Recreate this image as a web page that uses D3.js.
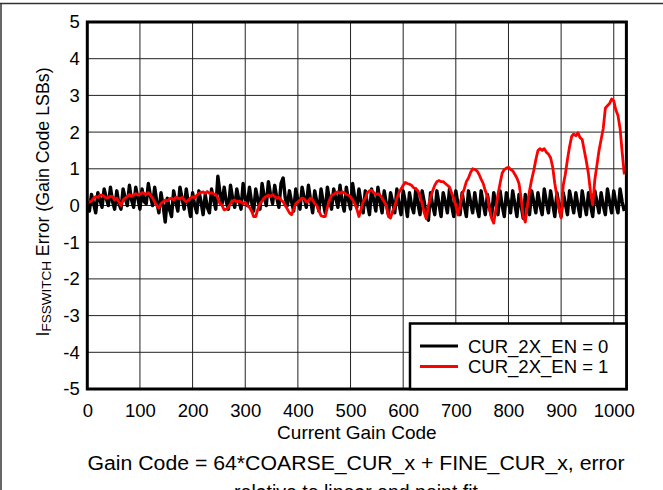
<!DOCTYPE html>
<html><head><meta charset="utf-8">
<script src="https://cdn.jsdelivr.net/npm/d3@7/dist/d3.min.js"></script>
<style>
body{margin:0;background:#fff}
svg{display:block}
text{font-family:"Liberation Sans",Arial,sans-serif;fill:#000}
</style>
</head><body>
<svg id="chart" width="663" height="490"></svg>
<script>
// ---- data ----
const codeStep = 4; // gain code spacing of the samples below (codes 0,4,...,1020)
const xTicks = [0,100,200,300,400,500,600,700,800,900,1000];
const yTicks = [-5,-4,-3,-2,-1,0,1,2,3,4,5];
const seriesNames = ["CUR_2X_EN = 0","CUR_2X_EN = 1"];
const seriesColors = ["#000000","#ff0000"];

const errCur2xEn0 = [
 0.1,-0.15,0.3,0.05,-0.2,0.35,0.15,-0.05,0.45,0.2,0.0,0.5,0.1,-0.1,0.4,0.05,
 -0.1,0.45,0.2,0.0,0.55,0.15,-0.05,0.5,0.2,-0.1,0.45,0.1,0.05,0.6,0.25,0.0,
 0.5,0.1,-0.2,0.35,0.0,-0.45,0.2,-0.1,-0.3,0.4,0.1,-0.15,0.5,0.2,-0.1,0.45,
 0.05,-0.3,0.35,0.0,-0.2,0.4,0.1,-0.25,0.3,-0.05,-0.2,0.45,0.15,-0.1,0.8,0.35,
 0.05,0.5,0.1,-0.1,0.55,0.2,-0.05,0.45,0.15,-0.1,0.6,0.2,0.0,0.5,0.1,-0.15,
 0.45,0.15,-0.1,0.6,0.25,0.0,0.65,0.3,0.05,0.55,0.2,-0.05,0.6,0.75,0.2,0.0,
 0.4,0.1,-0.15,0.45,0.15,-0.1,0.5,0.2,-0.05,0.55,0.15,-0.2,0.4,0.1,-0.15,0.45,
 0.1,-0.2,0.5,0.15,-0.1,0.45,0.2,-0.05,0.55,0.1,-0.15,0.5,0.15,-0.1,0.6,0.2,
 -0.05,0.45,0.1,-0.2,0.4,0.05,-0.25,0.45,0.15,-0.15,0.5,0.1,-0.2,0.4,0.05,-0.25,
 0.35,0.1,-0.2,0.45,0.05,-0.25,0.4,0.1,-0.3,0.35,0.0,-0.2,0.45,0.05,-0.25,0.4,
 0.1,-0.3,-0.4,0.35,0.0,-0.25,0.4,0.05,-0.3,0.35,0.1,-0.2,0.45,0.0,-0.3,0.4,
 0.05,-0.25,0.35,0.0,-0.3,0.4,0.1,-0.2,0.35,-0.05,-0.3,0.4,0.05,-0.25,0.3,-0.05,
 -0.3,0.35,0.05,-0.25,0.4,0.0,-0.3,0.35,0.1,-0.2,0.4,0.05,-0.3,0.3,0.0,-0.35,
 0.3,0.05,-0.25,0.4,0.1,-0.2,0.35,0.0,-0.25,0.45,0.1,-0.2,0.4,0.05,-0.3,0.35,
 0.0,-0.3,0.35,0.05,-0.25,0.4,0.1,-0.2,0.35,0.0,-0.3,0.4,0.05,-0.25,0.35,0.0,
 -0.3,0.4,0.1,-0.2,0.35,0.0,-0.25,0.45,0.1,-0.2,0.4,0.05,-0.2,0.45,0.1,-0.15
];

const errCur2xEn1 = [
 0.05,0.1,0.12,0.2,0.24,0.22,0.28,0.28,0.25,0.2,0.22,0.25,0.24,0.15,0.2,0.1,
 0.0,0.15,0.2,0.25,0.3,0.25,0.28,0.32,0.28,0.3,0.35,0.33,0.3,0.35,0.28,0.2,
 0.1,0.0,-0.07,0.05,0.1,0.15,0.12,0.18,0.2,0.15,0.22,0.2,0.18,0.22,0.15,0.1,
 0.15,0.2,0.24,0.2,0.28,0.33,0.35,0.37,0.33,0.38,0.33,0.35,0.32,0.3,0.2,0.05,
 0.0,-0.12,-0.1,-0.05,0.05,0.12,0.15,0.1,0.12,0.1,0.05,0.08,0.0,-0.05,-0.15,-0.3,
 -0.3,-0.1,0.05,0.12,0.2,0.25,0.28,0.25,0.3,0.24,0.2,0.22,0.15,0.1,0.0,-0.1,
 -0.2,-0.25,-0.1,0.05,0.1,0.15,0.2,0.18,0.1,0.12,0.2,0.15,0.05,0.0,-0.15,-0.28,
 -0.3,-0.3,-0.05,0.15,0.28,0.3,0.35,0.37,0.33,0.37,0.35,0.3,0.28,0.24,0.15,0.05,
 -0.1,-0.3,-0.1,0.1,0.2,0.35,0.4,0.42,0.35,0.3,0.32,0.28,0.2,0.1,0.0,-0.3,
 -0.34,-0.15,-0.03,0.2,0.35,0.45,0.55,0.63,0.6,0.58,0.55,0.48,0.45,0.4,0.25,0.05,
 -0.2,-0.36,0.0,0.22,0.4,0.55,0.65,0.68,0.65,0.65,0.6,0.55,0.5,0.35,0.2,0.0,
 -0.26,0.0,0.3,0.45,0.65,0.75,0.9,1.0,0.98,0.95,0.85,0.72,0.6,0.4,0.25,-0.1,
 -0.35,-0.48,-0.1,0.3,0.6,0.88,0.98,1.02,1.04,0.98,0.95,0.85,0.75,0.6,0.2,-0.3,
 -0.45,0.0,0.4,0.7,0.95,1.25,1.5,1.55,1.5,1.55,1.45,1.4,1.3,1.05,0.6,0.25,
 -0.1,-0.34,0.55,0.85,1.25,1.6,1.88,1.95,1.9,1.98,1.85,1.8,1.5,1.2,0.85,0.35,
 0.02,0.7,1.1,1.5,1.8,2.1,2.65,2.72,2.78,2.9,2.85,2.6,2.45,2.1,1.45,0.85
];

// ---- layout ----
const svg = d3.select("#chart");
const L = 87.3, R = 626.4, T = 22, B = 389;
const x = d3.scaleLinear().domain([0,1024]).range([L,R]);
const y = d3.scaleLinear().domain([-5,5]).range([B,T]);
const fmt = d => String(d);

// page frame (cropped box)
svg.append("line").attr("x1",0).attr("x2",663).attr("y1",3.5).attr("y2",3.5).attr("stroke","#333").attr("stroke-width",1.5);
svg.append("line").attr("x1",1).attr("x2",1).attr("y1",3).attr("y2",490).attr("stroke","#333").attr("stroke-width",1.5);

// gridlines
const grid = svg.append("g");
grid.selectAll("line.v").data(xTicks.filter(d=>d>0)).join("line")
  .attr("x1",d=>x(d)).attr("x2",d=>x(d)).attr("y1",T).attr("y2",B)
  .attr("stroke","#222").attr("stroke-width",1);
grid.selectAll("line.h").data(yTicks.filter(d=>d>-5 && d<5)).join("line")
  .attr("x1",L).attr("x2",R).attr("y1",d=>y(d)).attr("y2",d=>y(d))
  .attr("stroke","#222").attr("stroke-width",1);

// clip
svg.append("clipPath").attr("id","clip").append("rect")
  .attr("x",L).attr("y",T).attr("width",R-L).attr("height",B-T);

const line = d3.line().x((d,i)=>x(i*codeStep)).y(d=>y(d));
const plot = svg.append("g").attr("clip-path","url(#clip)");
plot.append("path").datum(errCur2xEn0).attr("d",line)
  .attr("fill","none").attr("stroke",seriesColors[0]).attr("stroke-width",3.4).attr("stroke-linejoin","round");
plot.append("path").datum(errCur2xEn1).attr("d",line)
  .attr("fill","none").attr("stroke",seriesColors[1]).attr("stroke-width",2.8).attr("stroke-linejoin","round");

// axes (labels)
const xAxis = svg.append("g").attr("transform",`translate(0,${B})`)
  .call(d3.axisBottom(x).tickValues(xTicks).tickSize(0).tickPadding(14.5).tickFormat(fmt));
xAxis.select(".domain").remove();
xAxis.selectAll("text").attr("font-size","18.5px").style("font-family","'Liberation Sans',Arial,sans-serif").attr("fill","#000");

const yAxis = svg.append("g").attr("transform",`translate(${L},0)`)
  .call(d3.axisLeft(y).tickValues(yTicks).tickSize(0).tickPadding(7.5).tickFormat(fmt));
yAxis.select(".domain").remove();
yAxis.selectAll("text").attr("font-size","18.5px").style("font-family","'Liberation Sans',Arial,sans-serif").attr("fill","#000");

// plot frame
svg.append("rect").attr("x",L).attr("y",T).attr("width",R-L).attr("height",B-T)
  .attr("fill","none").attr("stroke","#000").attr("stroke-width",3);

// legend
const lg = svg.append("g");
lg.append("rect").attr("x",410).attr("y",323.5).attr("width",R-410).attr("height",B-323.5)
  .attr("fill","#fff").attr("stroke","#000").attr("stroke-width",2.5);
seriesNames.forEach((n,i)=>{
  const yy = 346 + i*20.5;
  lg.append("line").attr("x1",420).attr("x2",458).attr("y1",yy).attr("y2",yy)
    .attr("stroke",seriesColors[i]).attr("stroke-width",3);
  lg.append("text").attr("x",468).attr("y",yy+6.6).attr("font-size","18.5px").text(n);
});

// axis titles
svg.append("text").attr("x",(L+R)/2).attr("y",438.5).attr("text-anchor","middle")
  .attr("font-size","19px").text("Current Gain Code");
svg.append("text").attr("x",356).attr("y",469.5).attr("text-anchor","middle")
  .attr("font-size","19.5px").attr("textLength",537).attr("lengthAdjust","spacingAndGlyphs")
  .text("Gain Code = 64*COARSE_CUR_x + FINE_CUR_x, error");
svg.append("text").attr("x",356).attr("y",499).attr("text-anchor","middle")
  .attr("font-size","19.5px").text("relative to linear end point fit");

const yt = svg.append("text").attr("transform","translate(48.5,202) rotate(-90)")
  .attr("text-anchor","middle").attr("font-size","17.8px");
yt.append("tspan").text("I");
yt.append("tspan").attr("font-size","13.5px").attr("dy","2").text("FSSWITCH");
yt.append("tspan").attr("dy","-2").text(" Error (Gain Code LSBs)");
</script>
</body></html>
